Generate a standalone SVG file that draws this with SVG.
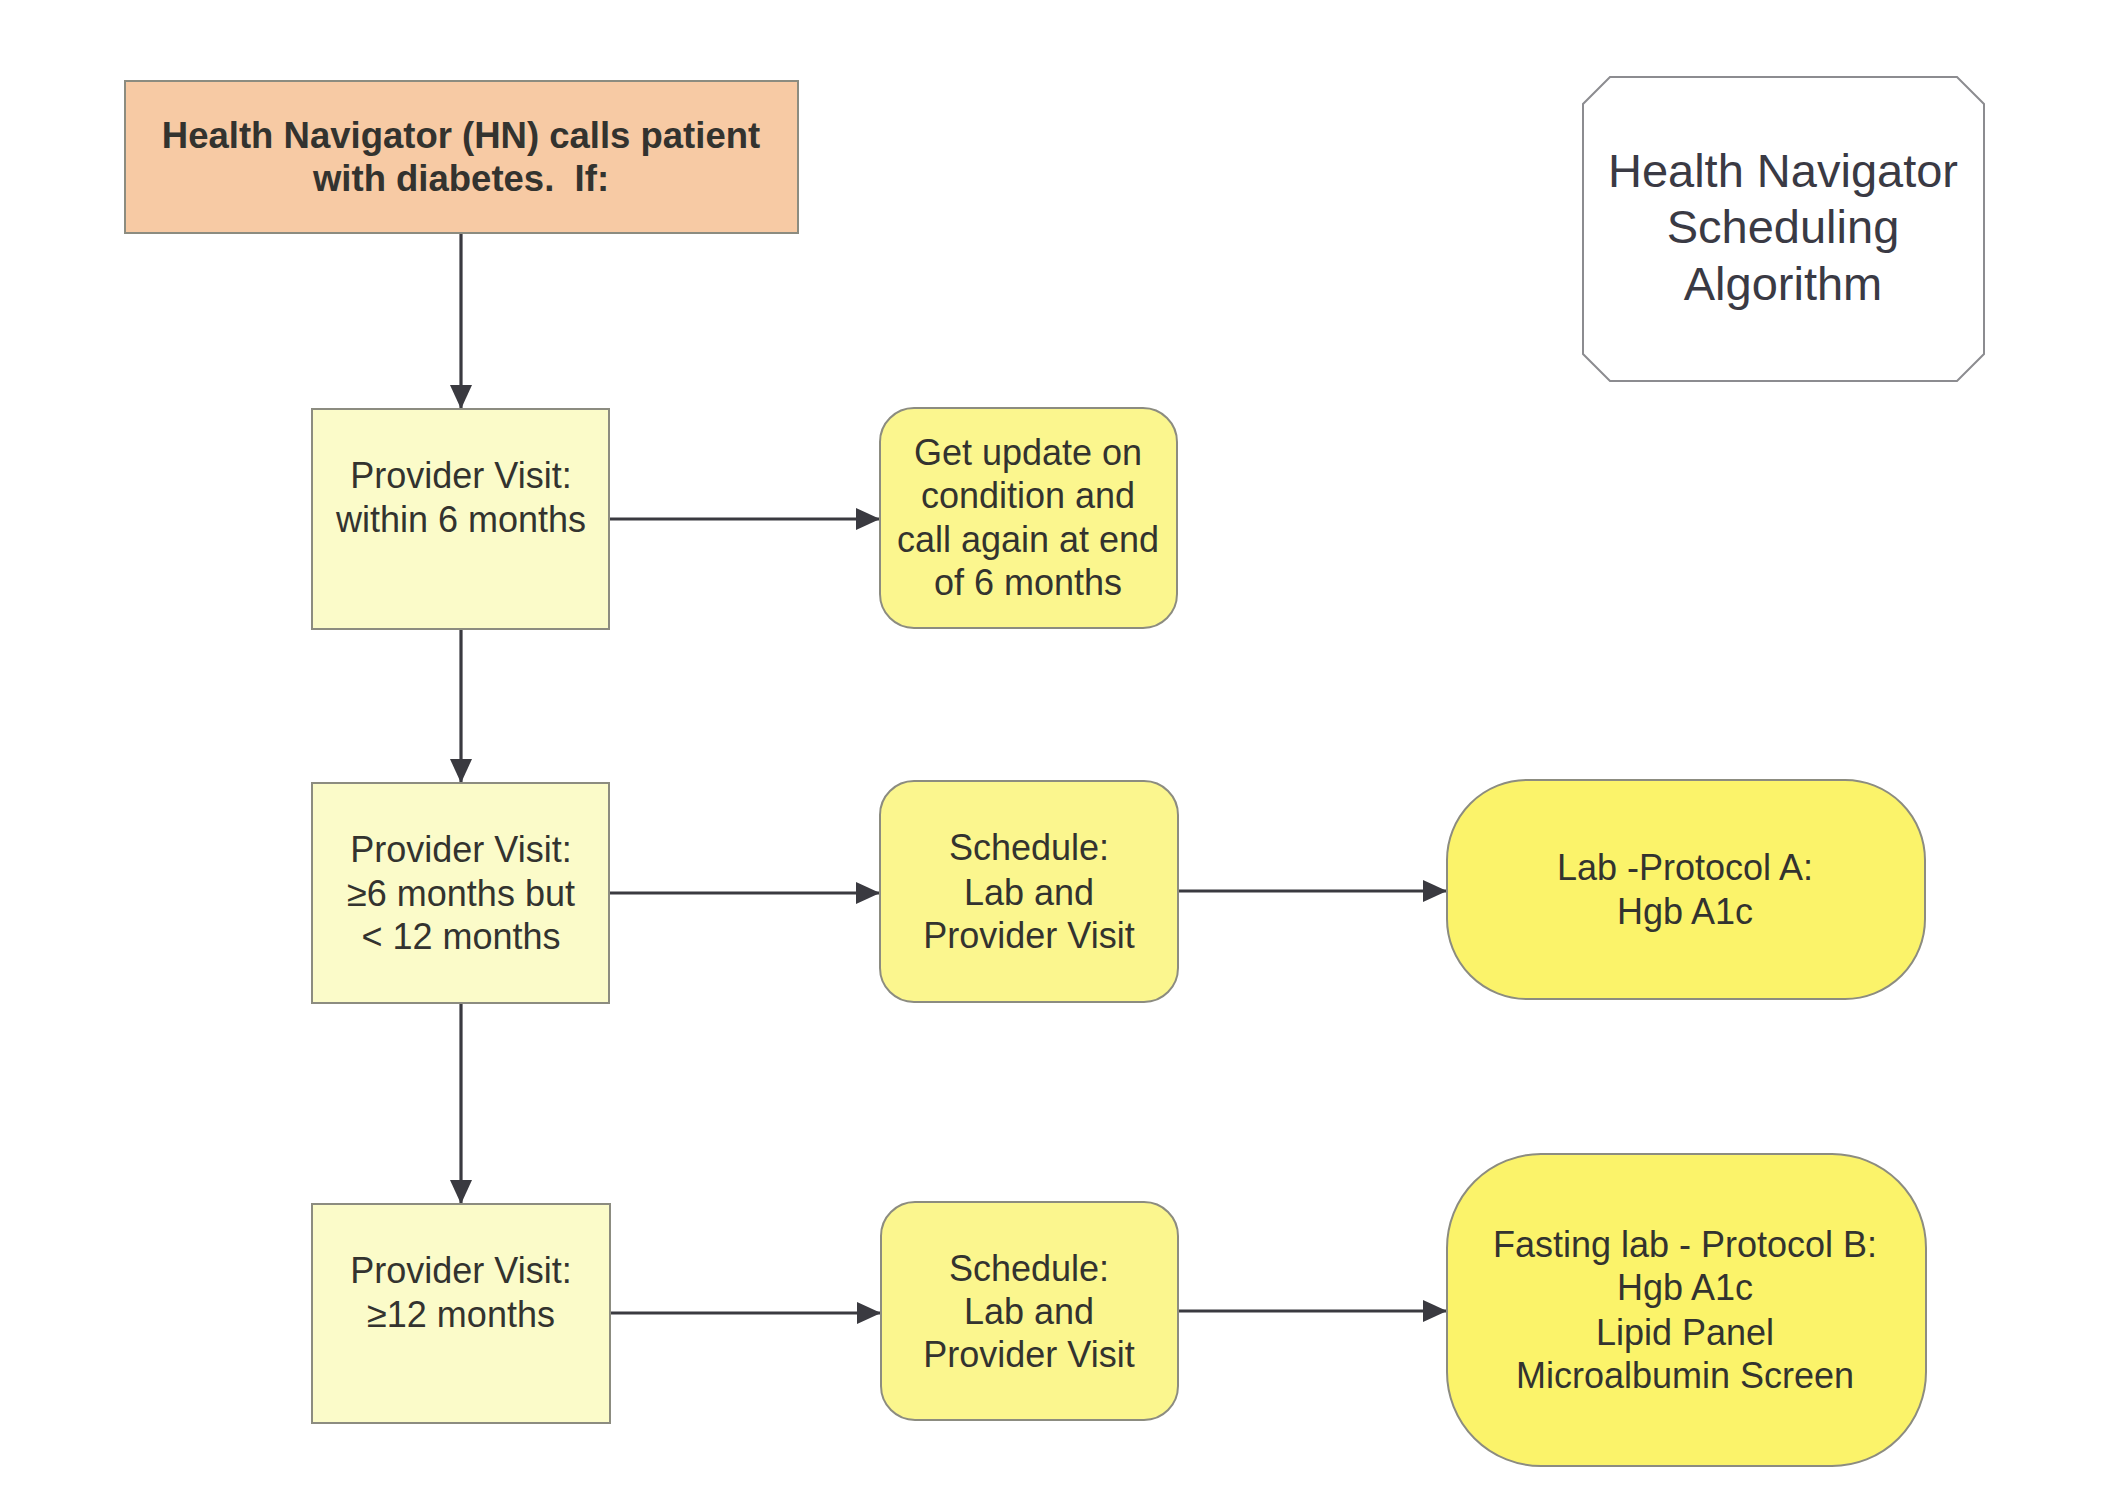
<svg xmlns="http://www.w3.org/2000/svg" width="2109" height="1488" viewBox="0 0 2109 1488">
<style>
  text { font-family: "Liberation Sans", Arial, sans-serif; fill: #33332f; text-anchor: middle; }
  .t36 { font-size: 36px; }
  .bold { font-weight: bold; font-size: 36.5px; }
  .title { font-size: 47px; fill: #3a3a44; }
  .box { stroke: #8c8c80; stroke-width: 2; }
  .start { fill: #f7caa4; }
  .cond { fill: #fbfbc9; }
  .act { fill: #fbf68e; }
  .lab { fill: #fbf36a; }
  .conn line { stroke: #3a3a40; stroke-width: 3.2; fill: none; }
</style>
<defs>
  <marker id="ah" viewBox="0 0 24 22" refX="24" refY="11" markerWidth="24" markerHeight="22" markerUnits="userSpaceOnUse" orient="auto">
    <path d="M0,0 L24,11 L0,22 Z" fill="#3a3a40"/>
  </marker>
</defs>
<rect width="2109" height="1488" fill="#ffffff"/>

<g id="title">
  <path d="M1610,77 L1957,77 L1984,104 L1984,354 L1957,381 L1610,381 L1583,354 L1583,104 Z" fill="#ffffff" stroke="#8c8c90" stroke-width="2"/>
  <text class="title" x="1783" y="187">Health Navigator</text>
  <text class="title" x="1783" y="243">Scheduling</text>
  <text class="title" x="1783" y="300">Algorithm</text>
</g>

<g class="conn" id="connectors">
  <line x1="461" y1="233" x2="461" y2="409" marker-end="url(#ah)"/>
  <line x1="461" y1="629" x2="461" y2="783" marker-end="url(#ah)"/>
  <line x1="461" y1="1003" x2="461" y2="1204" marker-end="url(#ah)"/>
  <line x1="609" y1="519" x2="880" y2="519" marker-end="url(#ah)"/>
  <line x1="609" y1="893" x2="880" y2="893" marker-end="url(#ah)"/>
  <line x1="1178" y1="891" x2="1447" y2="891" marker-end="url(#ah)"/>
  <line x1="610" y1="1313" x2="881" y2="1313" marker-end="url(#ah)"/>
  <line x1="1178" y1="1311" x2="1447" y2="1311" marker-end="url(#ah)"/>
</g>

<g id="start">
  <rect class="box start" x="125" y="81" width="673" height="152"/>
  <text class="bold" x="461" y="148">Health Navigator (HN) calls patient</text>
  <text class="bold" x="461" y="191">with diabetes.&#160; If:</text>
</g>

<g id="cond1">
  <rect class="box cond" x="312" y="409" width="297" height="220"/>
  <text class="t36" x="461" y="488">Provider Visit:</text>
  <text class="t36" x="461" y="532">within 6 months</text>
</g>

<g id="cond2">
  <rect class="box cond" x="312" y="783" width="297" height="220"/>
  <text class="t36" x="461" y="862">Provider Visit:</text>
  <text class="t36" x="461" y="906">≥6 months but</text>
  <text class="t36" x="461" y="949">&lt; 12 months</text>
</g>

<g id="cond3">
  <rect class="box cond" x="312" y="1204" width="298" height="219"/>
  <text class="t36" x="461" y="1283">Provider Visit:</text>
  <text class="t36" x="461" y="1327">≥12 months</text>
</g>

<g id="update">
  <rect class="box act" x="880" y="408" width="297" height="220" rx="34" ry="34"/>
  <text class="t36" x="1028" y="465">Get update on</text>
  <text class="t36" x="1028" y="508">condition and</text>
  <text class="t36" x="1028" y="552">call again at end</text>
  <text class="t36" x="1028" y="595">of 6 months</text>
</g>

<g id="schedule1">
  <rect class="box act" x="880" y="781" width="298" height="221" rx="34" ry="34"/>
  <text class="t36" x="1029" y="860">Schedule:</text>
  <text class="t36" x="1029" y="905">Lab and</text>
  <text class="t36" x="1029" y="948">Provider Visit</text>
</g>

<g id="schedule2">
  <rect class="box act" x="881" y="1202" width="297" height="218" rx="34" ry="34"/>
  <text class="t36" x="1029" y="1281">Schedule:</text>
  <text class="t36" x="1029" y="1324">Lab and</text>
  <text class="t36" x="1029" y="1367">Provider Visit</text>
</g>

<g id="labA">
  <rect class="box lab" x="1447" y="780" width="478" height="219" rx="80" ry="80"/>
  <text class="t36" x="1685" y="880">Lab -Protocol A:</text>
  <text class="t36" x="1685" y="924">Hgb A1c</text>
</g>

<g id="labB">
  <rect class="box lab" x="1447" y="1154" width="479" height="312" rx="94" ry="94"/>
  <text class="t36" x="1685" y="1257">Fasting lab - Protocol B:</text>
  <text class="t36" x="1685" y="1300">Hgb A1c</text>
  <text class="t36" x="1685" y="1345">Lipid Panel</text>
  <text class="t36" x="1685" y="1388">Microalbumin Screen</text>
</g>
</svg>
